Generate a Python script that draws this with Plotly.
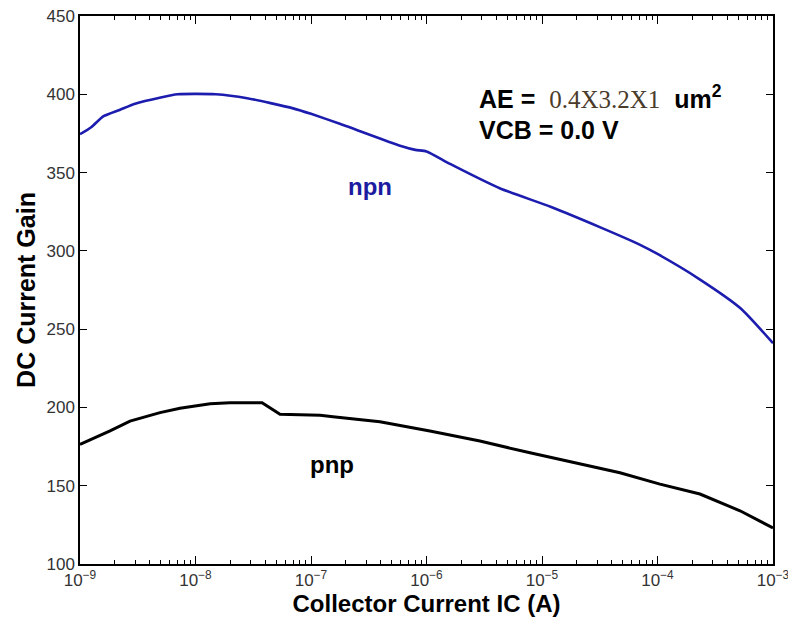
import plotly.graph_objects as go

# Collector current IC (A) and DC current gain
npn_ic = [1.0e-9, 1.25e-9, 1.6e-9, 2.2e-9, 3.0e-9, 5.0e-9, 7.0e-9, 1.5e-8, 2.8e-8,
          7.0e-8, 1.0e-7, 1.8e-7, 6.0e-7, 8.0e-7, 1.0e-6, 1.6e-6, 4.3e-6, 1.2e-5,
          3.2e-5, 7.0e-5, 1.0e-4, 2.3e-4, 5.2e-4, 1.0e-3]
npn_gain = [374.5, 379, 386, 390, 394, 398, 400, 400, 397.5,
            391, 387.5, 381, 367, 364.5, 363.5, 355.5, 340, 328,
            315, 304, 298, 282, 263.5, 241]

pnp_ic = [1.0e-9, 1.82e-9, 2.71e-9, 4.93e-9, 7.34e-9, 1.34e-8, 1.99e-8, 3.77e-8,
          5.39e-8, 1.2e-7, 1.55e-7, 3.95e-7, 1.07e-6, 2.9e-6, 7.87e-6, 2.13e-5,
          4.73e-5, 1.05e-4, 2.33e-4, 5.18e-4, 1.0e-3]
pnp_gain = [176.4, 185, 191.3, 196.7, 199.5, 202.4, 203, 203,
            195.7, 195, 194, 190.9, 184.9, 178.5, 171, 163.7,
            158.3, 151, 144.7, 134, 123]

x_tickvals = [1e-9, 1e-8, 1e-7, 1e-6, 1e-5, 1e-4, 1e-3]
x_ticktext = ["10<sup>−9</sup>", "10<sup>−8</sup>", "10<sup>−7</sup>", "10<sup>−6</sup>",
              "10<sup>−5</sup>", "10<sup>−4</sup>", "10<sup>−3</sup>"]
x_minor = [k * 10.0 ** e for e in range(-9, -3) for k in range(2, 10)]

fig = go.Figure()
fig.add_trace(go.Scatter(x=npn_ic, y=npn_gain, mode="lines", name="npn",
                         line=dict(color="#1c1cae", width=2.6, shape="spline", smoothing=0.6)))
fig.add_trace(go.Scatter(x=pnp_ic, y=pnp_gain, mode="lines", name="pnp",
                         line=dict(color="#000000", width=3, shape="linear")))

tickfont = dict(family="Liberation Sans, Arial", size=17, color="#333333")
fig.update_layout(
    width=780, height=617,
    margin=dict(l=72, r=15, t=8, b=61),
    paper_bgcolor="white", plot_bgcolor="white",
    showlegend=False,
    xaxis=dict(type="log", range=[-9, -3], tickmode="array", tickvals=x_tickvals,
               ticktext=x_ticktext, ticks="inside", ticklen=8, tickwidth=1.3,
               tickcolor="black", showline=True, linecolor="black", linewidth=1.5,
               mirror="ticks", showgrid=False, zeroline=False, automargin=False,
               ticklabeloverflow="allow",
               tickfont=dict(family="Liberation Sans, Arial", size=17, color="#333333"),
               minor=dict(tickmode="array", tickvals=x_minor, ticks="inside", ticklen=4,
                          tickwidth=1.2, tickcolor="black", showgrid=False),
               title=dict(text="<b>Collector Current IC (A)</b>", standoff=2,
                          font=dict(family="Liberation Sans, Arial", size=24, color="black"))),
    yaxis=dict(range=[100, 450], dtick=50, ticks="inside", ticklen=7, tickwidth=1.3,
               tickcolor="black", showline=True, linecolor="black", linewidth=1.5,
               mirror="ticks", showgrid=False, zeroline=False, automargin=False,
               ticklabeloverflow="allow",
               tickfont=tickfont,
               title=dict(text="<b>DC Current Gain</b>", standoff=4,
                          font=dict(family="Liberation Sans, Arial", size=25, color="black"))),
    annotations=[
        dict(x=-6.489, y=341.4, xref="x", yref="y", text="<b>npn</b>", showarrow=False,
             font=dict(family="Liberation Sans, Arial", size=24, color="#1c1ca0")),
        dict(x=-6.818, y=163.5, xref="x", yref="y", text="<b>pnp</b>", showarrow=False,
             font=dict(family="Liberation Sans, Arial", size=24, color="black")),
        dict(x=-5.563, y=398.3, xref="x", yref="y", xanchor="left", showarrow=False,
             text="<b>AE = </b>&nbsp;<span style='font-family:Liberation Serif, Times New Roman;color:#4a3b2a'>0.4X3.2X1</span>&nbsp; <b>um<sup>2</sup></b>",
             font=dict(family="Liberation Sans, Arial", size=25, color="black")),
        dict(x=-5.563, y=376.9, xref="x", yref="y", xanchor="left", showarrow=False,
             text="<b>VCB = 0.0 V</b>",
             font=dict(family="Liberation Sans, Arial", size=25, color="black")),
    ],
)

fig.write_html("out.html")
